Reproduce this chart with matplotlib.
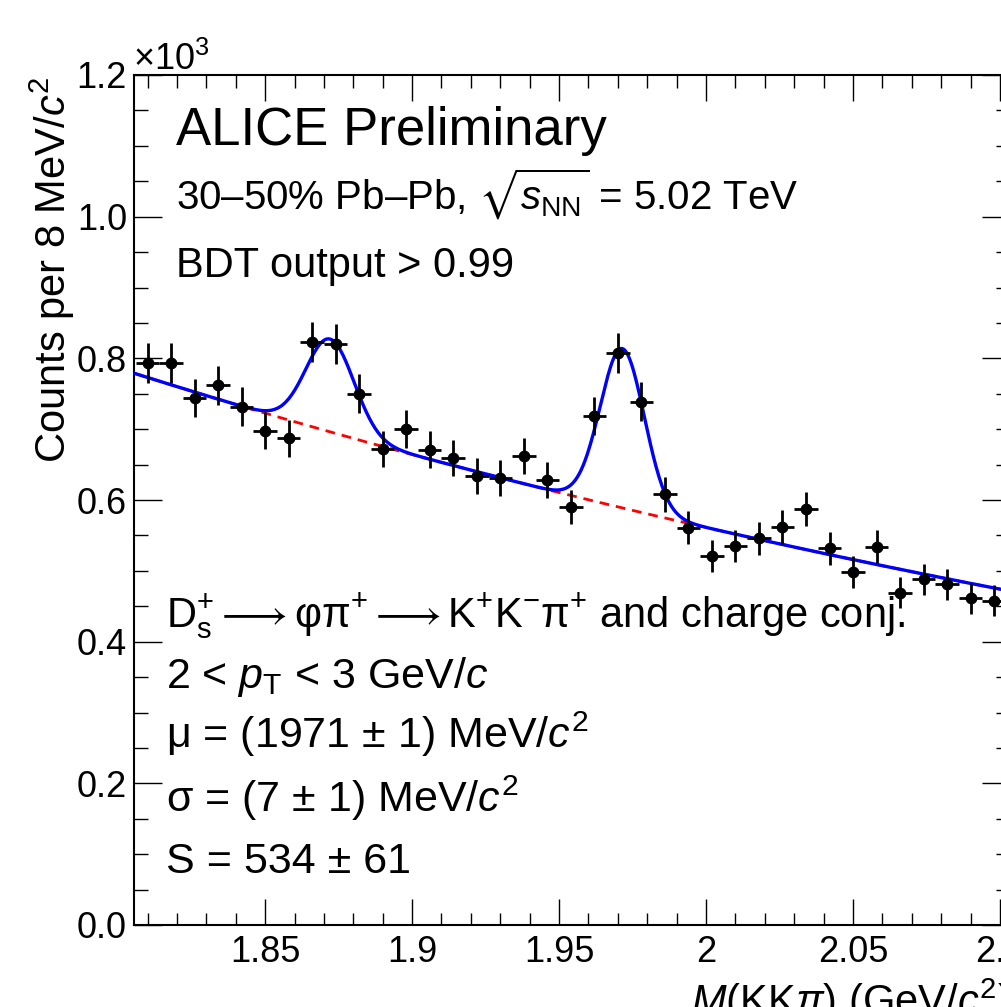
import numpy as np
import matplotlib
matplotlib.use('Agg')
import matplotlib.pyplot as plt
from matplotlib.ticker import MultipleLocator, FuncFormatter

plt.rcParams['font.family'] = ['Liberation Sans', 'DejaVu Sans']
plt.rcParams['mathtext.fontset'] = 'custom'
plt.rcParams['mathtext.rm'] = 'Liberation Sans'
plt.rcParams['mathtext.it'] = 'Liberation Sans:italic'
plt.rcParams['mathtext.bf'] = 'Liberation Sans:bold'
plt.rcParams['mathtext.fallback'] = 'stixsans'

# ── Data: invariant-mass histogram (8 MeV bins) ──────────────────────────────
bin_lo    = 1.806
bin_width = 0.008
counts = [793, 793, 744, 762, 732, 698, 687, 823, 820, 750,
          672, 700, 671, 659, 634, 631, 662, 628, 590, 718,
          807, 739, 608, 561, 521, 535, 546, 562, 587, 532,
          498, 534, 469, 488, 481, 461, 458]

# fit result
bkg_norm  = 779.0     # background at x = bkg_x0
bkg_x0    = 1.8054
bkg_slope = 1.685     # exp slope (1/GeV)
dplus_amp, dplus_mean, dplus_sigma = 131.0, 1.8721, 0.0082
ds_amp, ds_mean, ds_sigma          = 225.0, 1.9715, 0.0075

X_RANGE = (1.8054, 2.1034)
Y_RANGE = (0, 1200)

# ── Figure ────────────────────────────────────────────────────────────────────
W, H = 1001, 1007
fig = plt.figure(figsize=(W / 100, H / 100), dpi=100)
ax_l, ax_r, ax_t, ax_b = 134, 1010, 75, 925
ax = fig.add_axes([ax_l / W, 1 - ax_b / H, (ax_r - ax_l) / W, (ax_b - ax_t) / H])

centers = bin_lo + bin_width * (np.arange(len(counts)) + 0.5)
counts = np.array(counts, dtype=float)

x = np.linspace(X_RANGE[0], X_RANGE[1], 600)
bkg = bkg_norm * np.exp(-bkg_slope * (x - bkg_x0))
sig = (dplus_amp * np.exp(-0.5 * ((x - dplus_mean) / dplus_sigma) ** 2)
       + ds_amp * np.exp(-0.5 * ((x - ds_mean) / ds_sigma) ** 2))

ax.plot(x, bkg, color='red', linestyle=(0, (3.5, 2.5)), linewidth=2.0, zorder=2)
ax.plot(x, bkg + sig, color='blue', linewidth=2.4, zorder=3)

ax.errorbar(centers, counts, yerr=np.sqrt(counts), xerr=bin_width / 2,
            fmt='o', color='black', markersize=7.5, elinewidth=2.0,
            capsize=0, zorder=4)

ax.set_xlim(*X_RANGE)
ax.set_ylim(*Y_RANGE)

ax.xaxis.set_major_locator(MultipleLocator(0.05))
ax.xaxis.set_minor_locator(MultipleLocator(0.01))
ax.yaxis.set_major_locator(MultipleLocator(200))
ax.yaxis.set_minor_locator(MultipleLocator(50))
ax.xaxis.set_major_formatter(FuncFormatter(lambda v, p: f"{v:g}"))
ax.yaxis.set_major_formatter(FuncFormatter(lambda v, p: f"{v / 1000:.1f}"))

ax.tick_params(which='both', direction='in', top=True, right=True,
               labelsize=26, width=1.0)
ax.tick_params(axis='x', which='major', length=19, pad=7)
ax.tick_params(axis='x', which='minor', length=9)
ax.tick_params(axis='y', which='major', length=20, pad=5)
ax.tick_params(axis='y', which='minor', length=10)
for s in ax.spines.values():
    s.set_linewidth(1.5)

# ── Texts (pixel positions → figure fraction) ─────────────────────────────────
def ftext(px, py, s, **kw):
    fig.text(px / W, 1 - py / H, s, va='baseline', **kw)

ftext(133, 70, r'$\times10^{3}$', fontsize=26)
fig.text(52 / W, 1 - 270 / H, r'Counts per 8 MeV/$c^{2}$', rotation=90,
         ha='center', va='center', fontsize=30)
fig.text(ax_r / W, 1 - 1015 / H, r'$M$(KK$\pi$) (GeV/$c^{2}$)',
         ha='right', va='baseline', fontsize=30)

ftext(176, 145, 'ALICE Preliminary', fontsize=38)
ftext(176, 210, r'30–50% Pb–Pb, $\sqrt{s_{\mathrm{NN}}}$ = 5.02 TeV', fontsize=29)
ftext(176, 277, 'BDT output > 0.99', fontsize=30)

ftext(166, 628, r'$\mathrm{D_{s}^{+}} \longrightarrow \mathrm{φπ^{+}} \longrightarrow '
      r'\mathrm{K^{+}K^{-}π^{+}}$ and charge conj.', fontsize=30)
ftext(166, 688, r'2 < $p_{\mathrm{T}}$ < 3 GeV/$c$', fontsize=31)
ftext(166, 748, r'μ = (1971 ± 1) MeV/$c^{2}$', fontsize=31)
ftext(166, 812, r'σ = (7 ± 1) MeV/$c^{2}$', fontsize=31)
ftext(166, 873, 'S = 534 ± 61', fontsize=31)

fig.savefig('out.png', dpi=100)
